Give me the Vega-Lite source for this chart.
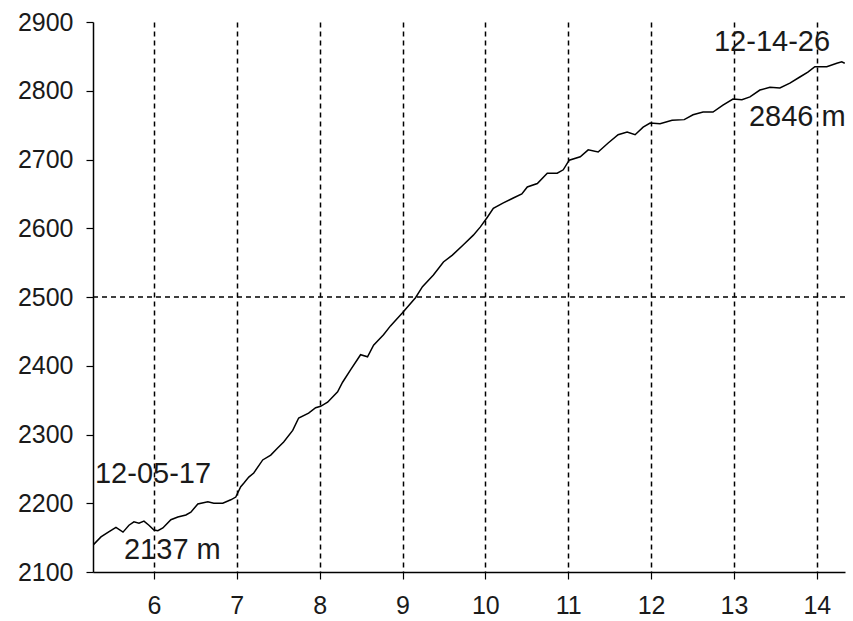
{
  "$schema": "https://vega.github.io/schema/vega-lite/v6.json",
  "autosize": {"type": "none"},
  "padding": {"left": 93, "top": 22, "right": 8, "bottom": 49},
  "width": 752,
  "height": 550,
  "background": "white",
  "config": {
    "view": {"stroke": null},
    "font": "Liberation Sans",
    "axis": {
      "domainColor": "black",
      "domainWidth": 1.5,
      "tickColor": "black",
      "tickWidth": 1.2,
      "tickSize": 7,
      "labelFont": "Liberation Sans",
      "labelFontSize": 25,
      "labelColor": "#1a1a1a",
      "title": null
    }
  },
  "datasets": {
    "profile": [
      {"x": 5.265, "alt": 2139},
      {"x": 5.361, "alt": 2151},
      {"x": 5.45, "alt": 2158},
      {"x": 5.542, "alt": 2165},
      {"x": 5.627, "alt": 2158},
      {"x": 5.699, "alt": 2168},
      {"x": 5.759, "alt": 2173},
      {"x": 5.82, "alt": 2171},
      {"x": 5.88, "alt": 2174},
      {"x": 5.94, "alt": 2168},
      {"x": 6.0, "alt": 2161},
      {"x": 6.048, "alt": 2160},
      {"x": 6.108, "alt": 2164},
      {"x": 6.205, "alt": 2176},
      {"x": 6.289, "alt": 2180},
      {"x": 6.386, "alt": 2183},
      {"x": 6.446, "alt": 2187},
      {"x": 6.53, "alt": 2199},
      {"x": 6.651, "alt": 2202},
      {"x": 6.723, "alt": 2200},
      {"x": 6.831, "alt": 2200},
      {"x": 6.928, "alt": 2205},
      {"x": 6.988, "alt": 2209},
      {"x": 7.048, "alt": 2224},
      {"x": 7.084, "alt": 2229},
      {"x": 7.145, "alt": 2238},
      {"x": 7.205, "alt": 2244},
      {"x": 7.313, "alt": 2263},
      {"x": 7.41, "alt": 2270},
      {"x": 7.49, "alt": 2280},
      {"x": 7.566, "alt": 2289},
      {"x": 7.675, "alt": 2306},
      {"x": 7.747, "alt": 2324},
      {"x": 7.867, "alt": 2331},
      {"x": 7.952, "alt": 2339},
      {"x": 8.012, "alt": 2341},
      {"x": 8.096, "alt": 2347},
      {"x": 8.217, "alt": 2362},
      {"x": 8.277, "alt": 2376},
      {"x": 8.373, "alt": 2394},
      {"x": 8.494, "alt": 2416},
      {"x": 8.578, "alt": 2413},
      {"x": 8.651, "alt": 2430},
      {"x": 8.771, "alt": 2445},
      {"x": 8.855, "alt": 2458},
      {"x": 9.0, "alt": 2477},
      {"x": 9.157, "alt": 2499},
      {"x": 9.241, "alt": 2515},
      {"x": 9.373, "alt": 2532},
      {"x": 9.494, "alt": 2551},
      {"x": 9.602, "alt": 2561},
      {"x": 9.735, "alt": 2576},
      {"x": 9.855, "alt": 2590},
      {"x": 9.94, "alt": 2602},
      {"x": 10.024, "alt": 2616},
      {"x": 10.096, "alt": 2629},
      {"x": 10.217, "alt": 2637},
      {"x": 10.337, "alt": 2644},
      {"x": 10.44, "alt": 2650},
      {"x": 10.506, "alt": 2660},
      {"x": 10.627, "alt": 2665},
      {"x": 10.747, "alt": 2680},
      {"x": 10.867, "alt": 2680},
      {"x": 10.94, "alt": 2685},
      {"x": 11.012, "alt": 2699},
      {"x": 11.145, "alt": 2704},
      {"x": 11.241, "alt": 2714},
      {"x": 11.361, "alt": 2711},
      {"x": 11.482, "alt": 2724},
      {"x": 11.602, "alt": 2736},
      {"x": 11.711, "alt": 2740},
      {"x": 11.807, "alt": 2736},
      {"x": 11.904, "alt": 2747},
      {"x": 11.988, "alt": 2753},
      {"x": 12.108, "alt": 2752},
      {"x": 12.253, "alt": 2757},
      {"x": 12.4, "alt": 2758},
      {"x": 12.506, "alt": 2765},
      {"x": 12.627, "alt": 2769},
      {"x": 12.747, "alt": 2769},
      {"x": 12.867, "alt": 2779},
      {"x": 12.988, "alt": 2788},
      {"x": 13.096, "alt": 2787},
      {"x": 13.193, "alt": 2791},
      {"x": 13.313, "alt": 2801},
      {"x": 13.434, "alt": 2805},
      {"x": 13.554, "alt": 2804},
      {"x": 13.675, "alt": 2811},
      {"x": 13.795, "alt": 2820},
      {"x": 13.892, "alt": 2827},
      {"x": 13.976, "alt": 2835},
      {"x": 14.12, "alt": 2835},
      {"x": 14.241, "alt": 2840},
      {"x": 14.301, "alt": 2842},
      {"x": 14.337, "alt": 2840}
    ],
    "notes": [
      {"x": 5.289, "alt": 2242, "label": "12-05-17"},
      {"x": 5.639, "alt": 2132, "label": "2137 m"},
      {"x": 12.759, "alt": 2871, "label": "12-14-26"},
      {"x": 13.181, "alt": 2762, "label": "2846 m"}
    ]
  },
  "layer": [
    {
      "data": {"values": [{"alt": 2500}]},
      "mark": {"type": "rule", "color": "black", "strokeWidth": 1.5, "strokeDash": [5, 4]},
      "encoding": {
        "y": {"field": "alt", "type": "quantitative", "scale": {"domain": [2100, 2900]}}
      }
    },
    {
      "data": {"name": "profile"},
      "mark": {"type": "line", "color": "black", "strokeWidth": 1.5, "clip": true},
      "encoding": {
        "x": {
          "field": "x",
          "type": "quantitative",
          "scale": {"domain": [5.265, 14.34], "nice": false, "zero": false},
          "axis": {
            "values": [6, 7, 8, 9, 10, 11, 12, 13, 14],
            "format": "d",
            "grid": true,
            "gridColor": "black",
            "gridDash": [5, 4],
            "gridWidth": 1.5,
            "labelPadding": 14,
            "labelFlush": false
          }
        },
        "y": {
          "field": "alt",
          "type": "quantitative",
          "scale": {"domain": [2100, 2900], "nice": false, "zero": false},
          "axis": {
            "values": [2100, 2200, 2300, 2400, 2500, 2600, 2700, 2800, 2900],
            "format": "d",
            "grid": false,
            "labelPadding": 13,
            "labelFlush": false
          }
        }
      }
    },
    {
      "data": {"name": "notes"},
      "mark": {"type": "text", "align": "left", "baseline": "middle", "fontSize": 29, "font": "Liberation Sans", "color": "#1a1a1a"},
      "encoding": {
        "x": {"field": "x", "type": "quantitative"},
        "y": {"field": "alt", "type": "quantitative"},
        "text": {"field": "label"}
      }
    }
  ]
}
